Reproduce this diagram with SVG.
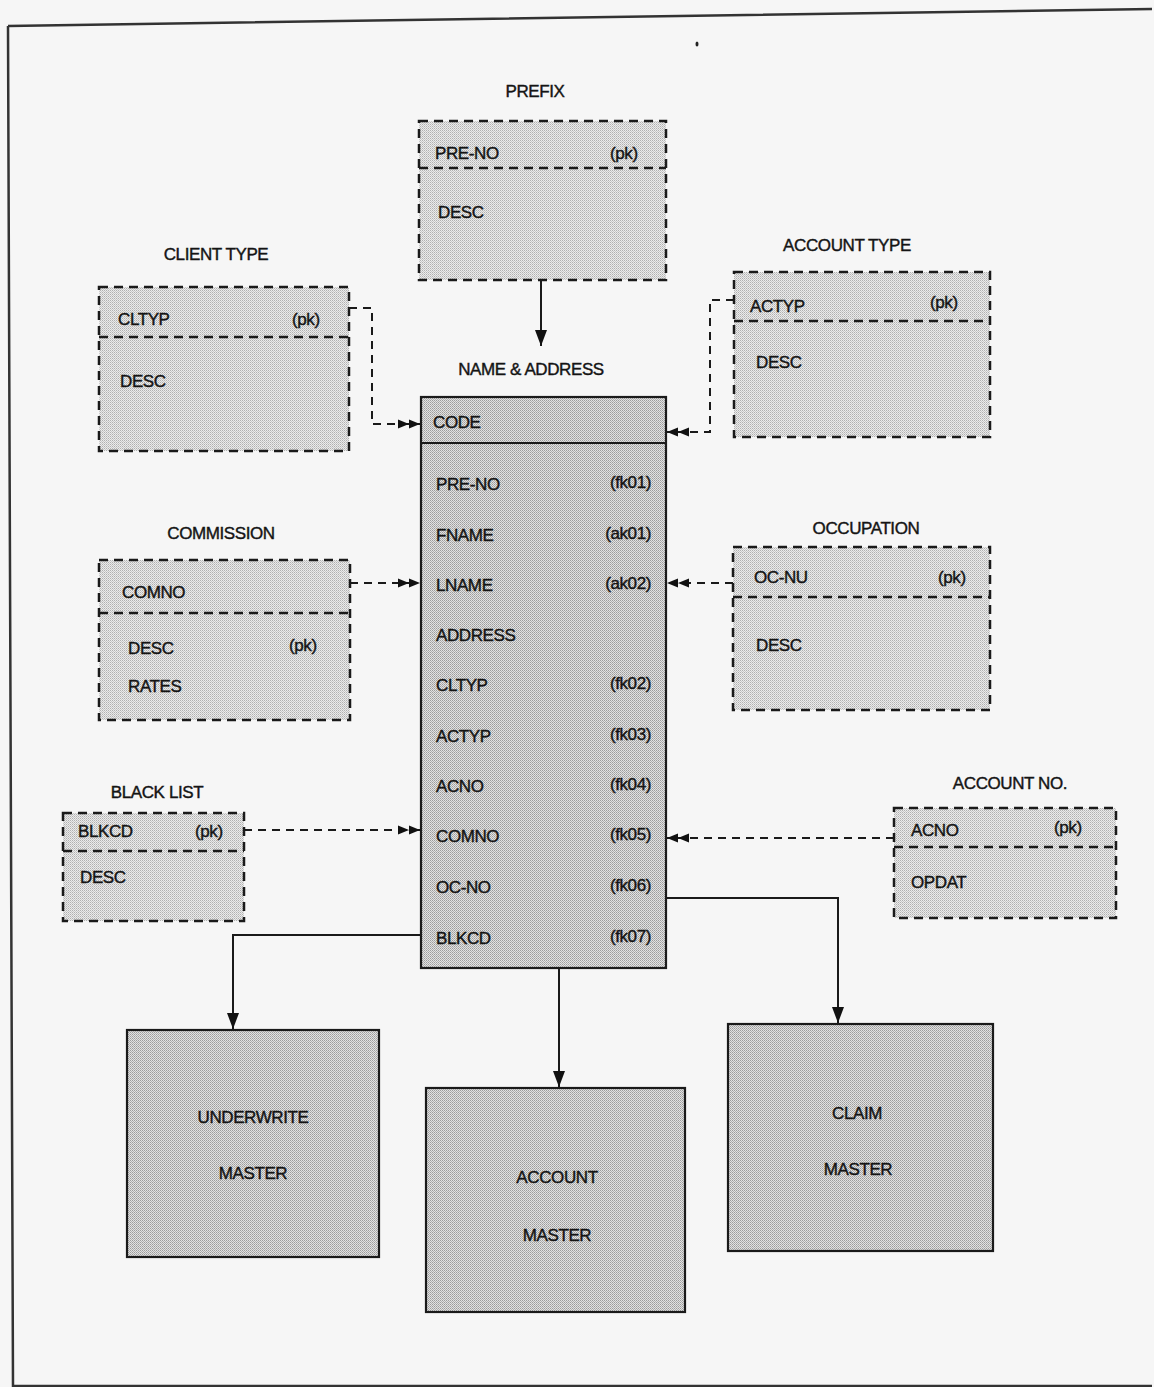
<svg xmlns="http://www.w3.org/2000/svg" width="1154" height="1387" viewBox="0 0 1154 1387">
<defs>
<pattern id="dots" width="2" height="2" patternUnits="userSpaceOnUse">
<rect width="2" height="2" fill="#ebebeb"/>
<rect width="1" height="1" fill="#b0b0b0"/>
<rect x="1" y="1" width="1" height="1" fill="#c8c8c8"/>
</pattern>
<pattern id="dotsD" width="2" height="2" patternUnits="userSpaceOnUse">
<rect width="2" height="2" fill="#e2e2e2"/>
<rect width="1" height="1" fill="#9c9c9c"/>
<rect x="1" y="1" width="1" height="1" fill="#b0b0b0"/>
</pattern>
<marker id="arr" viewBox="0 0 16 12" refX="16" refY="6" markerWidth="16" markerHeight="12" markerUnits="userSpaceOnUse" orient="auto">
<path d="M0,0 L16,6 L0,12 Z" fill="#111"/>
</marker>
<marker id="dbl" viewBox="0 0 22 10" refX="22" refY="5" markerWidth="22" markerHeight="10" markerUnits="userSpaceOnUse" orient="auto">
<path d="M0,0.5 L11,5 L0,9.5 Z M11,0.5 L22,5 L11,9.5 Z" fill="#111"/>
</marker>
</defs>
<style>
text{font-family:"Liberation Sans",Arial,sans-serif;font-size:17px;fill:#141414;stroke:#141414;stroke-width:0.4px;letter-spacing:-0.4px}
.c{text-anchor:middle}
.r{text-anchor:end}
.dash{fill:url(#dots);stroke:#1a1a1a;stroke-width:2.5;stroke-dasharray:9 6}
.dl{fill:none;stroke:#1a1a1a;stroke-width:2.5;stroke-dasharray:9 6}
.solid{fill:url(#dotsD);stroke:#1a1a1a;stroke-width:2.2}
.main{fill:url(#dotsD);stroke:#1a1a1a;stroke-width:2.2}
.con{fill:none;stroke:#1a1a1a;stroke-width:2}
.dcon{fill:none;stroke:#1a1a1a;stroke-width:2;stroke-dasharray:8 6}
</style>
<rect width="1154" height="1387" fill="#f6f6f6"/>
<path d="M8,26 L1152,9 M8,26 L13,1386 L1152,1386" fill="none" stroke="#333" stroke-width="2.5"/>
<ellipse cx="697" cy="44" rx="1.5" ry="2.5" fill="#222"/>

<g id="connectors">
<path class="con" d="M541,281 V346" marker-end="url(#arr)"/>
<path class="dcon" d="M349,308 H372 V424 H420" marker-end="url(#dbl)"/>
<path class="dcon" d="M734,300 H710 V432 H667" marker-end="url(#dbl)"/>
<path class="dcon" d="M350,583 H420" marker-end="url(#dbl)"/>
<path class="dcon" d="M733,583 H667" marker-end="url(#dbl)"/>
<path class="dcon" d="M244,830 H420" marker-end="url(#dbl)"/>
<path class="dcon" d="M894,838 H667" marker-end="url(#dbl)"/>
<path class="con" d="M421,935 H233 V1029" marker-end="url(#arr)"/>
<path class="con" d="M559,968 V1087" marker-end="url(#arr)"/>
<path class="con" d="M666,898 H838 V1023" marker-end="url(#arr)"/>
</g>

<g id="prefix">
<text class="c" x="535" y="97">PREFIX</text>
<rect class="dash" x="419" y="121" width="247" height="159"/>
<line class="dl" x1="419" y1="168" x2="666" y2="168"/>
<text x="435" y="159">PRE-NO</text>
<text x="610" y="159">(pk)</text>
<text x="438" y="218">DESC</text>
</g>

<g id="client-type">
<text class="c" x="216" y="260">CLIENT TYPE</text>
<rect class="dash" x="99" y="287" width="250" height="164"/>
<line class="dl" x1="99" y1="337" x2="349" y2="337"/>
<text x="118" y="325">CLTYP</text>
<text x="292" y="325">(pk)</text>
<text x="120" y="387">DESC</text>
</g>

<g id="account-type">
<text class="c" x="847" y="251">ACCOUNT  TYPE</text>
<rect class="dash" x="734" y="272" width="256" height="165"/>
<line class="dl" x1="734" y1="321" x2="990" y2="321"/>
<text x="750" y="312">ACTYP</text>
<text x="930" y="308">(pk)</text>
<text x="756" y="368">DESC</text>
</g>

<g id="name-address">
<text class="c" x="531" y="375">NAME &amp; ADDRESS</text>
<rect class="main" x="421" y="397" width="245" height="571"/>
<line x1="421" y1="443" x2="666" y2="443" stroke="#1a1a1a" stroke-width="2"/>
<text x="433" y="428">CODE</text>
<text x="436" y="490">PRE-NO</text><text class="r" x="651" y="488">(fk01)</text>
<text x="436" y="541">FNAME</text><text class="r" x="651" y="539">(ak01)</text>
<text x="436" y="591">LNAME</text><text class="r" x="651" y="589">(ak02)</text>
<text x="436" y="641">ADDRESS</text>
<text x="436" y="691">CLTYP</text><text class="r" x="651" y="689">(fk02)</text>
<text x="436" y="742">ACTYP</text><text class="r" x="651" y="740">(fk03)</text>
<text x="436" y="792">ACNO</text><text class="r" x="651" y="790">(fk04)</text>
<text x="436" y="842">COMNO</text><text class="r" x="651" y="840">(fk05)</text>
<text x="436" y="893">OC-NO</text><text class="r" x="651" y="891">(fk06)</text>
<text x="436" y="944">BLKCD</text><text class="r" x="651" y="942">(fk07)</text>
</g>

<g id="commission">
<text class="c" x="221" y="539">COMMISSION</text>
<rect class="dash" x="99" y="560" width="251" height="160"/>
<line class="dl" x1="99" y1="613" x2="350" y2="613"/>
<text x="122" y="598">COMNO</text>
<text x="128" y="654">DESC</text>
<text x="289" y="651">(pk)</text>
<text x="128" y="692">RATES</text>
</g>

<g id="occupation">
<text class="c" x="866" y="534">OCCUPATION</text>
<rect class="dash" x="733" y="547" width="257" height="163"/>
<line class="dl" x1="733" y1="597" x2="990" y2="597"/>
<text x="754" y="583">OC-NU</text>
<text x="938" y="583">(pk)</text>
<text x="756" y="651">DESC</text>
</g>

<g id="black-list">
<text class="c" x="157" y="798">BLACK LIST</text>
<rect class="dash" x="63" y="813" width="181" height="108"/>
<line class="dl" x1="63" y1="851" x2="244" y2="851"/>
<text x="78" y="837">BLKCD</text>
<text x="195" y="837">(pk)</text>
<text x="80" y="883">DESC</text>
</g>

<g id="account-no">
<text class="c" x="1010" y="789">ACCOUNT NO.</text>
<rect class="dash" x="894" y="808" width="222" height="110"/>
<line class="dl" x1="894" y1="847" x2="1116" y2="847"/>
<text x="911" y="836">ACNO</text>
<text x="1054" y="833">(pk)</text>
<text x="911" y="888">OPDAT</text>
</g>

<g id="underwrite-master">
<rect class="solid" x="127" y="1030" width="252" height="227"/>
<text class="c" x="253" y="1123">UNDERWRITE</text>
<text class="c" x="253" y="1179">MASTER</text>
</g>

<g id="account-master">
<rect class="solid" x="426" y="1088" width="259" height="224"/>
<text class="c" x="557" y="1183">ACCOUNT</text>
<text class="c" x="557" y="1241">MASTER</text>
</g>

<g id="claim-master">
<rect class="solid" x="728" y="1024" width="265" height="227"/>
<text class="c" x="857" y="1119">CLAIM</text>
<text class="c" x="858" y="1175">MASTER</text>
</g>
</svg>
